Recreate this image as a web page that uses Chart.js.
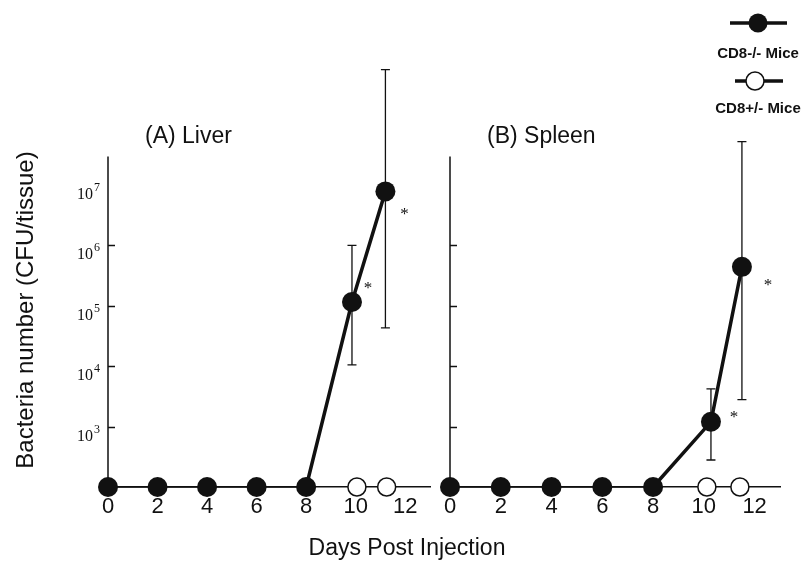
<!DOCTYPE html>
<html>
<head>
<meta charset="utf-8">
<title>Bacteria number</title>
<script src="https://cdn.jsdelivr.net/npm/chart.js@4.4.1/dist/chart.umd.min.js"></script>
<style>
  body { margin: 0; background: #fff; }
  #wrap { position: relative; width: 803px; height: 568px; }
  #wrap canvas { position: absolute; left: 0; top: 0; }
</style>
</head>
<body>
<div id="wrap">
  <canvas id="liverChart" width="803" height="568"></canvas>
  <canvas id="spleenChart" width="803" height="568"></canvas>
</div>
<script>
// axis ticks
const dayTicks = [0, 2, 4, 6, 8, 10, 12];
const cfuTicks = [1e3, 1e4, 1e5, 1e6];
const cfuLabels = [1e3, 1e4, 1e5, 1e6, 1e7];

// (A) Liver - CD8-/- mice (filled) and CD8+/- mice (open)
const liverDaysKO = [0, 2, 4, 6, 8, 9.85, 11.2];
const liverCfuKO = [100, 100, 100, 100, 100, 1.15e5, 7.8e6];
const liverLowKO = [null, null, null, null, null, 1.05e4, 4.3e4];
const liverHighKO = [null, null, null, null, null, 1.0e6, 8.1e8];
const liverStars = [5, 6];
const liverDaysHet = [10.05, 11.25];
const liverCfuHet = [100, 100];

// (B) Spleen
const spleenDaysKO = [0, 2, 4, 6, 8, 10.28, 11.5];
const spleenCfuKO = [100, 100, 100, 100, 100, 1.2e3, 4.4e5];
const spleenLowKO = [null, null, null, null, null, 2.8e2, 2.8e3];
const spleenHighKO = [null, null, null, null, null, 4.2e3, 5.2e7];
const spleenStars = [5, 6];
const spleenDaysHet = [10.12, 11.42];
const spleenCfuHet = [100, 100];

const ink = '#111';
const sans = '"Liberation Sans", Arial, sans-serif';
const serif = '"Liberation Serif", "Times New Roman", serif';
Chart.defaults.font.family = sans;
Chart.defaults.color = ink;

// axis line, inner ticks, error bars, asterisks, panel title
const panelDecor = {
    id: 'panelDecor',
    beforeDatasetsDraw(chart, args, opts) {
        const { ctx } = chart;
        const x = chart.scales.x, y = chart.scales.y;
        const x0 = x.getPixelForValue(0);
        ctx.save();
        ctx.strokeStyle = ink;
        ctx.lineWidth = 1.5;
        ctx.beginPath();
        ctx.moveTo(x0, y.getPixelForValue(y.min));
        ctx.lineTo(x0, y.getPixelForValue(opts.axisTop));
        cfuTicks.forEach(v => {
            const py = Math.round(y.getPixelForValue(v)) + 0.5;
            ctx.moveTo(x0, py);
            ctx.lineTo(x0 + 7, py);
        });
        ctx.stroke();

        // error bars
        const pts = chart.getDatasetMeta(0).data;
        ctx.lineWidth = 1.3;
        ctx.beginPath();
        opts.low.forEach((lo, i) => {
            if (lo == null) return;
            const px = pts[i].x;
            const yLo = y.getPixelForValue(lo);
            const yHi = y.getPixelForValue(opts.high[i]);
            ctx.moveTo(px, yLo); ctx.lineTo(px, yHi);
            ctx.moveTo(px - 4.5, yLo); ctx.lineTo(px + 4.5, yLo);
            ctx.moveTo(px - 4.5, yHi); ctx.lineTo(px + 4.5, yHi);
        });
        ctx.stroke();
        ctx.restore();
    },
    afterDraw(chart, args, opts) {
        const { ctx } = chart;
        const x = chart.scales.x, y = chart.scales.y;
        const pts = chart.getDatasetMeta(0).data;
        ctx.save();
        ctx.fillStyle = ink;

        // significance asterisks
        ctx.font = '17px ' + serif;
        ctx.textAlign = 'center';
        ctx.textBaseline = 'middle';
        opts.stars.forEach((idx, k) => {
            const off = opts.starOffsets[k];
            ctx.fillText('*', pts[idx].x + off[0], pts[idx].y + off[1] + 3);
        });

        // panel title
        ctx.font = '23px ' + sans;
        ctx.textAlign = 'left';
        ctx.textBaseline = 'alphabetic';
        ctx.fillText(opts.title, x.getPixelForValue(0) + opts.titleDx, 143);

        // 10^n labels on the left axis
        if (opts.showLabels) {
            const right = x.getPixelForValue(0) - 8;
            cfuLabels.forEach(v => {
                const py = y.getPixelForValue(v);
                const exp = String(Math.round(Math.log10(v)));
                ctx.textAlign = 'right';
                ctx.font = '12px ' + serif;
                ctx.fillText(exp, right, py + 6);
                const w = ctx.measureText(exp).width;
                ctx.font = '16px ' + serif;
                ctx.fillText('10', right - w - 1, py + 14);
            });
        }
        ctx.restore();
    }
};

// axis titles and key, drawn once on the liver canvas
const pageText = {
    id: 'pageText',
    afterDraw(chart) {
        const { ctx } = chart;
        ctx.save();
        ctx.fillStyle = ink;
        ctx.strokeStyle = ink;
        ctx.textAlign = 'center';
        ctx.textBaseline = 'middle';

        ctx.font = '23px ' + sans;
        ctx.fillText('Days Post Injection', 407, 549);

        ctx.save();
        ctx.translate(26, 310);
        ctx.rotate(-Math.PI / 2);
        ctx.font = '24px ' + sans;
        ctx.fillText('Bacteria number (CFU/tissue)', 0, 0);
        ctx.restore();

        // key
        ctx.lineWidth = 3.5;
        ctx.beginPath();
        ctx.moveTo(730, 23); ctx.lineTo(787, 23);
        ctx.moveTo(735, 81); ctx.lineTo(783, 81);
        ctx.stroke();
        ctx.beginPath();
        ctx.arc(758, 23, 9.5, 0, Math.PI * 2);
        ctx.fill();
        ctx.beginPath();
        ctx.arc(755, 81, 9, 0, Math.PI * 2);
        ctx.fillStyle = '#fff';
        ctx.fill();
        ctx.lineWidth = 1.5;
        ctx.stroke();
        ctx.fillStyle = ink;
        ctx.font = 'bold 15px ' + sans;
        ctx.fillText('CD8-/- Mice', 758, 54);
        ctx.fillText('CD8+/- Mice', 758, 109);
        ctx.restore();
    }
};

function makePanel(canvasId, p) {
    const ko = p.days.map((d, i) => ({ x: d, y: p.cfu[i] }));
    const het = p.daysHet.map((d, i) => ({ x: d, y: p.cfuHet[i] }));
    return new Chart(document.getElementById(canvasId), {
        type: 'line',
        data: {
            datasets: [{
                label: 'CD8-/- Mice',
                data: ko,
                borderColor: ink,
                backgroundColor: ink,
                pointBackgroundColor: ink,
                pointBorderWidth: 0,
                pointRadius: 10,
                tension: 0,
                clip: false,
                segment: {
                    borderWidth: c => (c.p0.parsed.y > 100 || c.p1.parsed.y > 100) ? 3.5 : 1.5
                }
            }, {
                label: 'CD8+/- Mice',
                data: het,
                showLine: false,
                pointBackgroundColor: '#fff',
                pointBorderColor: ink,
                pointBorderWidth: 1.5,
                pointRadius: 9,
                clip: false
            }]
        },
        options: {
            responsive: false,
            animation: false,
            devicePixelRatio: 1,
            layout: { padding: { top: 64, right: p.padRight, left: 0, bottom: 0 } },
            scales: {
                x: {
                    type: 'linear',
                    min: 0,
                    max: 13,
                    afterBuildTicks: s => { s.ticks = dayTicks.map(v => ({ value: v })); },
                    afterFit: s => { s.height = 81; },
                    grid: { display: false, drawTicks: false },
                    border: { display: true, color: ink, width: 1.5 },
                    ticks: {
                        autoSkip: false,
                        maxRotation: 0,
                        padding: 7,
                        color: ink,
                        font: { size: 22 }
                    }
                },
                y: {
                    type: 'logarithmic',
                    min: 100,
                    max: 1e9,
                    afterFit: s => { s.width = p.yWidth; },
                    grid: { display: false },
                    border: { display: false },
                    ticks: { display: false }
                }
            },
            plugins: {
                legend: { display: false },
                tooltip: { enabled: false },
                panelDecor: {
                    axisTop: Math.pow(10, 7.47),
                    low: p.low,
                    high: p.high,
                    stars: p.stars,
                    starOffsets: p.starOffsets,
                    title: p.title,
                    titleDx: p.titleDx,
                    showLabels: p.showLabels
                }
            }
        },
        plugins: p.extra ? [panelDecor, pageText] : [panelDecor]
    });
}

makePanel('liverChart', {
    days: liverDaysKO, cfu: liverCfuKO, low: liverLowKO, high: liverHighKO,
    daysHet: liverDaysHet, cfuHet: liverCfuHet,
    stars: liverStars, starOffsets: [[16, -17], [19, 20]],
    title: '(A) Liver', titleDx: 37,
    yWidth: 108, padRight: 373, showLabels: true, extra: true
});

makePanel('spleenChart', {
    days: spleenDaysKO, cfu: spleenCfuKO, low: spleenLowKO, high: spleenHighKO,
    daysHet: spleenDaysHet, cfuHet: spleenCfuHet,
    stars: spleenStars, starOffsets: [[23, -7], [26, 16]],
    title: '(B) Spleen', titleDx: 37,
    yWidth: 450, padRight: 23, showLabels: false, extra: false
});
</script>
</body>
</html>
